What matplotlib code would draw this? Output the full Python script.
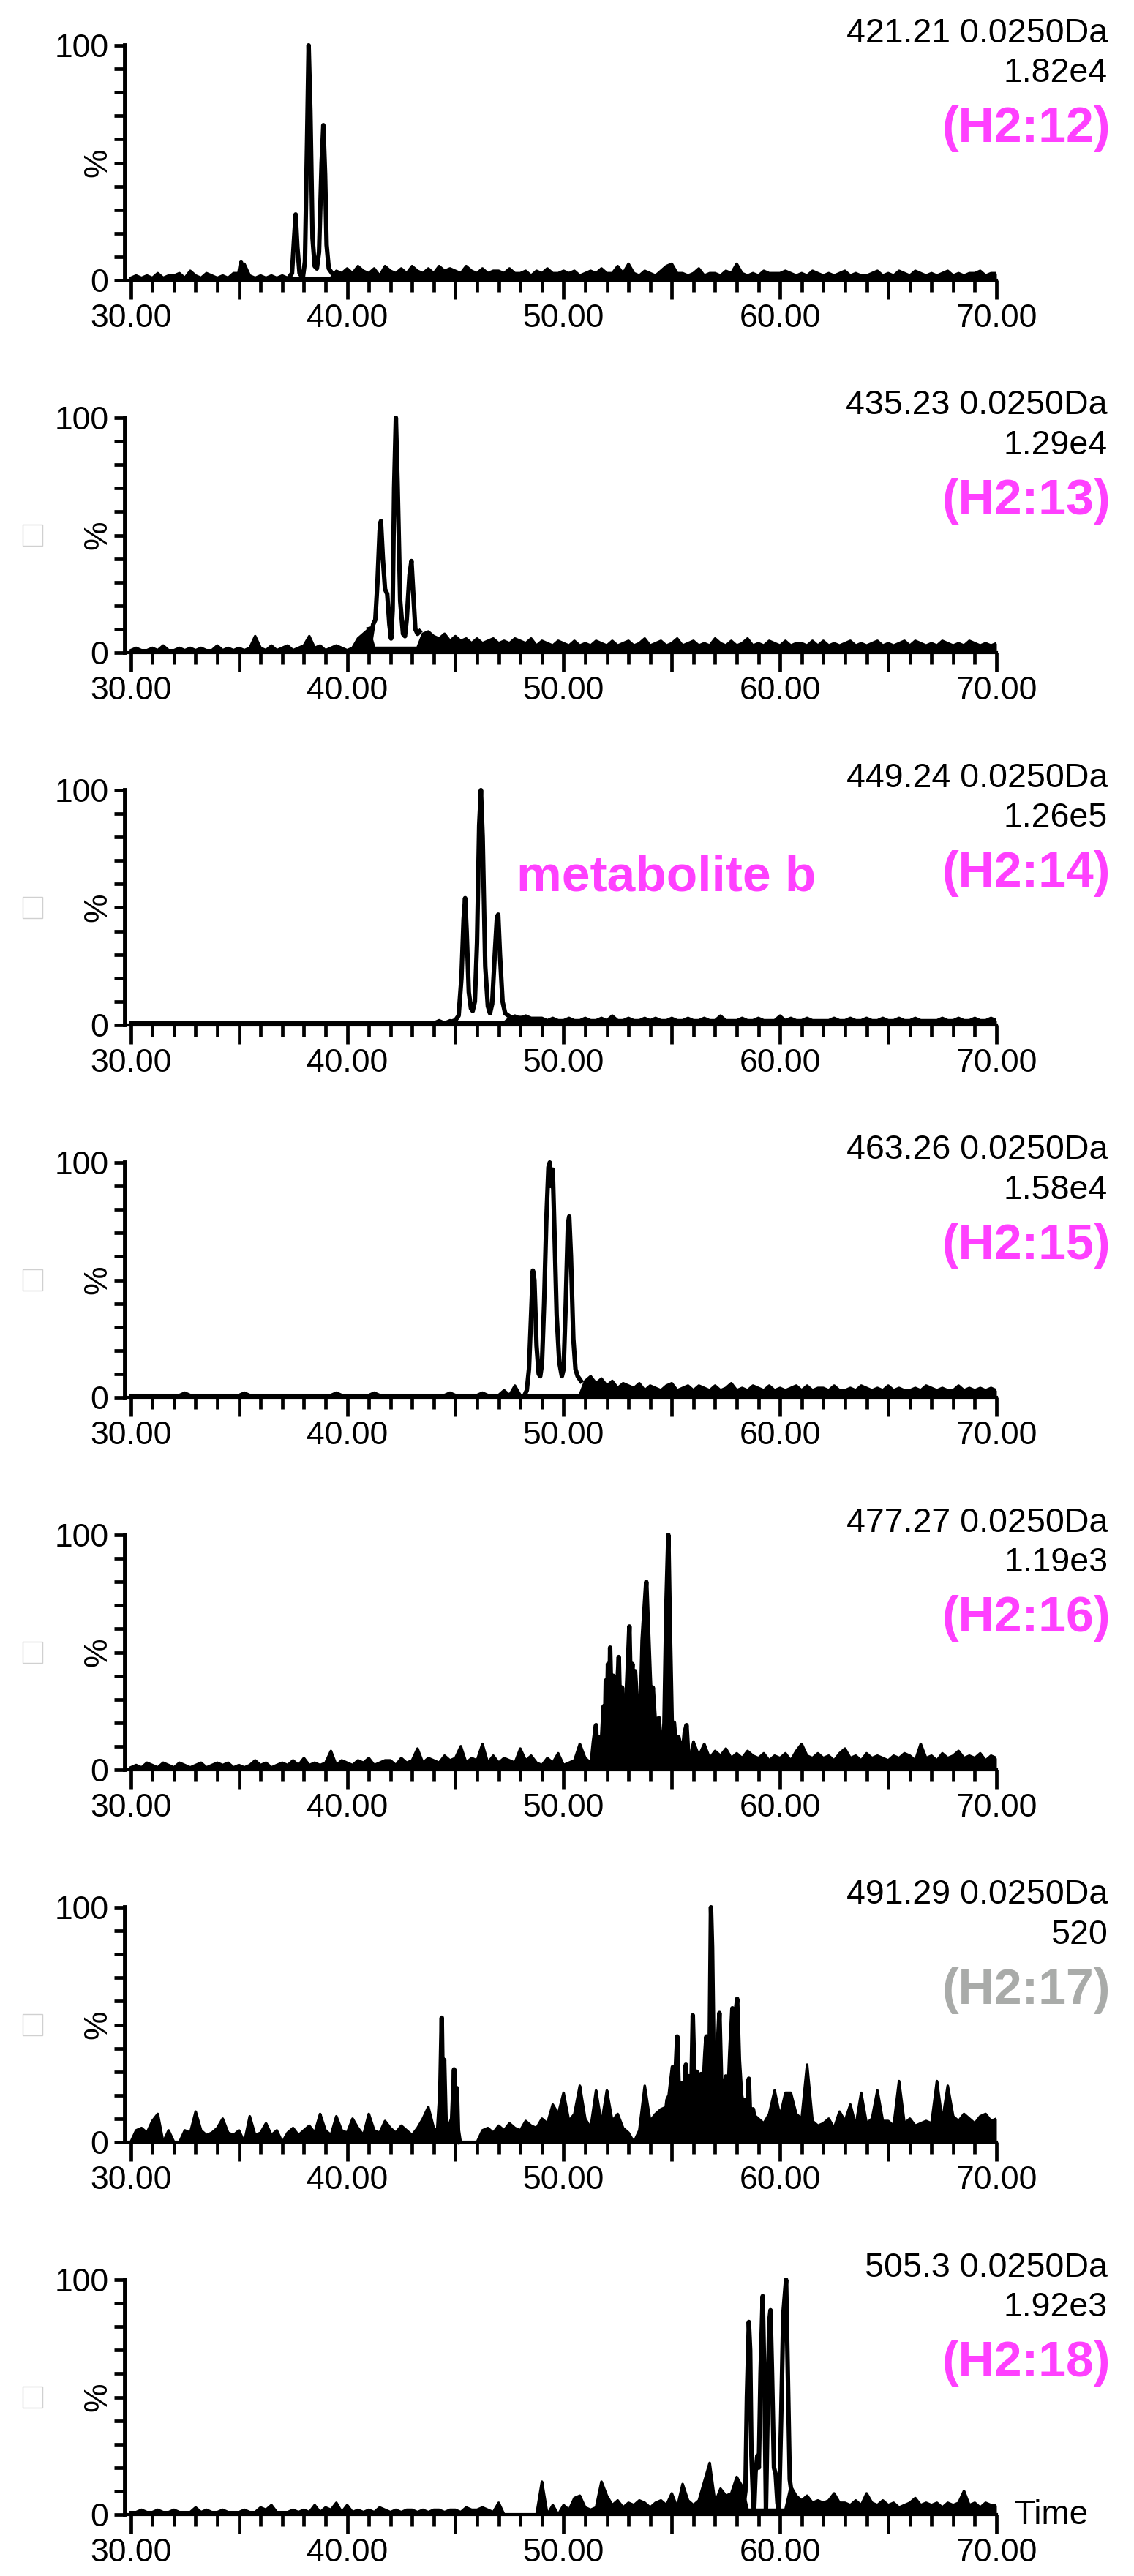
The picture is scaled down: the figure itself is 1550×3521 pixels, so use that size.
import numpy as np
import matplotlib
matplotlib.use("Agg")
import matplotlib.pyplot as plt
from matplotlib.patches import Rectangle
from matplotlib.ticker import MultipleLocator

plt.rcParams['font.family'] = ['Liberation Sans', 'DejaVu Sans']

# ------------------------------------------------------------
# Data (7 extracted ion chromatograms)
# ------------------------------------------------------------
masses = ["421.21 0.0250Da", "435.23 0.0250Da", "449.24 0.0250Da", "463.26 0.0250Da",
          "477.27 0.0250Da", "491.29 0.0250Da", "505.3 0.0250Da"]
intensities = ["1.82e4", "1.29e4", "1.26e5", "1.58e4", "1.19e3", "520", "1.92e3"]
tags = ["(H2:12)", "(H2:13)", "(H2:14)", "(H2:15)", "(H2:16)", "(H2:17)", "(H2:18)"]
tag_is_grey = [False, False, False, False, False, True, False]
# clusters that look like a solid black mass in the reference
dense_cluster = [False, False, False, False, True, True, False]

# baseline noise, one value (%) every 0.25 min starting at 30.00
noise1 = [1, 2, 1, 2, 1, 3, 1, 2, 2, 3, 1, 4, 2, 1, 3, 2,
          1, 2, 1, 3, 3, 7, 2, 1, 2, 1, 2, 1, 2, 1, 1, 1,
          1, 1, 1, 1, 1, 1, 4, 3, 5, 3, 6, 4, 3, 5, 2, 6,
          4, 3, 5, 3, 6, 4, 3, 5, 3, 6, 4, 5, 4, 3, 6, 4,
          3, 5, 3, 4, 4, 3, 5, 3, 3, 4, 2, 4, 3, 5, 3, 3,
          4, 3, 4, 2, 3, 4, 3, 5, 3, 3, 6, 3, 7, 3, 2, 4,
          3, 2, 4, 6, 7, 3, 3, 2, 3, 5, 2, 3, 3, 2, 4, 3,
          7, 3, 2, 3, 2, 4, 3, 3, 3, 4, 3, 2, 3, 2, 4, 3,
          2, 3, 2, 3, 4, 2, 3, 2, 2, 3, 4, 2, 3, 2, 4, 3,
          2, 4, 3, 2, 3, 2, 3, 4, 2, 3, 2, 3, 3, 4, 2, 3,
          3]
noise2 = [1, 2, 1, 1, 2, 1, 3, 1, 1, 2, 1, 2, 1, 2, 1, 1,
          3, 1, 2, 1, 2, 1, 2, 7, 2, 1, 3, 1, 2, 3, 1, 2,
          3, 7, 2, 3, 1, 2, 3, 2, 1, 2, 6, 8, 10, 2, 2, 2,
          2, 2, 2, 2, 2, 2, 8, 9, 7, 6, 8, 5, 7, 5, 6, 4,
          6, 4, 5, 6, 4, 5, 4, 6, 5, 4, 6, 3, 5, 4, 3, 5,
          4, 3, 5, 3, 4, 3, 5, 4, 3, 5, 3, 4, 5, 3, 4, 6,
          3, 4, 5, 3, 4, 6, 3, 4, 5, 3, 4, 3, 6, 4, 3, 5,
          3, 4, 6, 3, 4, 3, 5, 4, 3, 5, 3, 4, 4, 3, 5, 3,
          5, 3, 4, 3, 4, 5, 3, 4, 3, 4, 5, 3, 4, 3, 4, 5,
          3, 5, 4, 3, 4, 3, 5, 4, 3, 4, 3, 5, 4, 3, 4, 3,
          4]
noise3 = [1, 1, 1, 1, 1, 1, 1, 1, 1, 1, 1, 1, 1, 1, 1, 1,
          1, 1, 1, 1, 1, 1, 1, 1, 1, 1, 1, 1, 1, 1, 1, 1,
          1, 1, 1, 1, 1, 1, 1, 1, 1, 1, 1, 1, 1, 1, 1, 1,
          1, 1, 1, 1, 1, 1, 1, 1, 1, 2, 1, 2, 1, 1, 1, 1,
          1, 1, 1, 1, 1, 1, 3, 4, 3, 4, 3, 3, 3, 2, 3, 2,
          2, 3, 2, 2, 3, 2, 2, 3, 2, 4, 2, 2, 3, 2, 2, 3,
          2, 3, 2, 2, 3, 2, 2, 3, 2, 2, 3, 2, 2, 4, 2, 2,
          2, 3, 2, 2, 3, 2, 2, 2, 4, 2, 3, 2, 2, 3, 2, 2,
          2, 2, 3, 2, 2, 3, 2, 2, 3, 2, 2, 3, 2, 2, 3, 2,
          2, 3, 2, 2, 2, 2, 3, 2, 2, 3, 2, 2, 3, 2, 2, 3,
          2]
noise4 = [1, 1, 1, 1, 1, 1, 1, 1, 1, 1, 2, 1, 1, 1, 1, 1,
          1, 1, 1, 1, 1, 2, 1, 1, 1, 1, 1, 1, 1, 1, 1, 1,
          1, 1, 1, 1, 1, 1, 2, 1, 1, 1, 1, 1, 1, 2, 1, 1,
          1, 1, 1, 1, 1, 1, 1, 1, 1, 1, 1, 2, 1, 1, 1, 1,
          1, 2, 1, 1, 1, 3, 1, 5, 1, 1, 1, 1, 1, 1, 1, 1,
          1, 1, 1, 1, 7, 9, 6, 8, 5, 7, 4, 6, 5, 4, 6, 3,
          5, 4, 3, 5, 6, 3, 4, 5, 3, 5, 4, 3, 5, 3, 4, 6,
          3, 4, 3, 5, 4, 3, 5, 3, 4, 3, 4, 5, 3, 5, 3, 4,
          4, 3, 5, 3, 3, 4, 3, 5, 4, 3, 4, 3, 5, 3, 4, 3,
          3, 4, 3, 5, 4, 3, 4, 3, 3, 5, 3, 4, 3, 4, 3, 4,
          3]
noise5 = [1, 2, 1, 3, 2, 1, 3, 2, 1, 3, 2, 1, 2, 3, 1, 2,
          3, 2, 3, 1, 2, 1, 2, 4, 2, 3, 1, 2, 3, 2, 4, 2,
          5, 2, 3, 2, 3, 8, 2, 4, 3, 2, 4, 3, 5, 2, 3, 4,
          4, 2, 5, 3, 4, 9, 3, 5, 4, 3, 6, 4, 5, 10, 3, 5,
          4, 11, 3, 6, 3, 5, 4, 3, 9, 4, 6, 3, 2, 5, 3, 7,
          2, 3, 4, 11, 5, 3, 2, 2, 2, 2, 2, 2, 2, 2, 2, 2,
          2, 2, 2, 2, 2, 2, 2, 2, 12, 6, 11, 5, 8, 6, 9, 5,
          7, 5, 8, 6, 5, 7, 4, 6, 5, 7, 4, 8, 11, 6, 5, 7,
          5, 6, 4, 7, 9, 5, 6, 4, 7, 5, 6, 5, 4, 6, 5, 7,
          6, 4, 11, 5, 6, 4, 7, 5, 6, 8, 5, 6, 5, 7, 4, 6,
          5]
noise6 = [0, 5, 6, 4, 9, 12, 0, 5, 0, 0, 5, 4, 13, 5, 3, 4,
          6, 10, 4, 3, 5, 0, 11, 3, 4, 8, 3, 5, 0, 4, 6, 3,
          5, 7, 4, 12, 5, 3, 11, 5, 4, 10, 6, 3, 12, 5, 4, 9,
          6, 4, 7, 5, 3, 6, 10, 15, 6, 4, 5, 8, 6, 0, 0, 0,
          0, 5, 6, 4, 7, 5, 8, 6, 5, 9, 7, 6, 10, 8, 16, 12,
          21, 9, 12, 24, 10, 6, 22, 8, 22, 9, 12, 6, 4, 0, 5, 24,
          9, 12, 14, 15, 10, 12, 9, 11, 9, 12, 10, 11, 10, 9, 12, 10,
          9, 11, 10, 12, 10, 8, 12, 22, 11, 21, 21, 12, 10, 33, 9, 7,
          8, 10, 6, 13, 9, 16, 7, 21, 8, 10, 22, 9, 9, 7, 26, 8,
          10, 7, 8, 9, 8, 26, 9, 24, 11, 9, 12, 10, 8, 11, 12, 9,
          10]
noise7 = [1, 1, 2, 1, 1, 2, 1, 1, 2, 1, 1, 1, 3, 1, 2, 1,
          1, 2, 1, 1, 1, 2, 1, 1, 3, 2, 4, 1, 1, 1, 2, 1,
          2, 1, 4, 1, 3, 2, 5, 1, 4, 1, 2, 1, 2, 1, 3, 2,
          1, 2, 1, 2, 2, 1, 2, 1, 2, 2, 1, 2, 2, 1, 3, 2,
          2, 3, 2, 1, 5, 0, 0, 0, 0, 0, 0, 0, 14, 0, 4, 0,
          4, 2, 7, 8, 3, 2, 3, 14, 8, 4, 6, 3, 5, 4, 6, 5,
          3, 5, 6, 4, 9, 3, 13, 6, 4, 6, 14, 22, 5, 11, 8, 9,
          16, 12, 2, 2, 2, 2, 2, 2, 2, 2, 12, 8, 6, 8, 5, 6,
          5, 6, 9, 5, 5, 4, 6, 4, 9, 5, 4, 6, 4, 5, 3, 4,
          5, 7, 4, 5, 4, 5, 3, 5, 4, 5, 10, 4, 5, 3, 5, 4,
          4]

# main peak clusters (time in min, relative intensity in %); nan breaks the line
peak1_t = [35.0, 35.1, 35.2, np.nan,
           37.3, 37.45, 37.55, 37.62, 37.7, 37.8, 37.95, 38.05, 38.15, 38.22, 38.3, 38.4,
           38.5, 38.6, 38.7, 38.82, 38.9, 38.98, 39.05, 39.15, 39.3]
peak1_y = [2, 7.5, 2, np.nan,
           1, 3, 18, 28, 14, 3, 1, 8, 60, 100, 72, 18,
           6, 5, 12, 50, 66, 45, 15, 5, 3]
peak2_t = [41.0, 41.1, 41.2, 41.3, 41.4, 41.5, 41.56, 41.65, 41.75, 41.85, 41.95, 42.03,
           42.1, 42.17, 42.25, 42.33, 42.45, 42.58, 42.67, 42.75, 42.88, 42.97, 43.05,
           43.15, 43.25, 43.35]
peak2_y = [10, 6, 12, 14, 30, 52, 56, 40, 27, 25, 12, 6,
           18, 70, 100, 72, 22, 8, 7, 14, 33, 39, 26,
           10, 8, 9]
peak3_t = [44.85, 45.0, 45.15, 45.28, 45.38, 45.45, 45.52, 45.62, 45.72, 45.8, 45.9, 46.0,
           46.1, 46.18, 46.26, 46.38, 46.5, 46.6, 46.7, 46.82, 46.92, 46.98, 47.06, 47.18,
           47.3, 47.45, 47.6, 47.8, 48.0]
peak3_y = [1.5, 2, 4, 20, 45, 54, 40, 14, 7, 6, 10, 35,
           85, 100, 80, 25, 8, 5, 9, 30, 46, 47, 30, 10,
           5, 4, 3, 3, 3]
peak4_t = [48.2, 48.3, 48.4, 48.5, 48.58, 48.65, 48.75, 48.85, 48.92, 49.0, 49.1, 49.2,
           49.3, 49.36, 49.42, 49.5, 49.58, 49.68, 49.8, 49.92, 50.0, 50.1, 50.2, 50.26,
           50.34, 50.45, 50.55, 50.65, 50.8]
peak4_y = [1, 3, 12, 35, 54, 50, 22, 10, 9, 14, 40, 75,
           98, 100, 90, 97, 70, 35, 15, 9, 12, 40, 74, 77,
           60, 25, 12, 9, 7]
peak5_t = [51.3, 51.4, 51.5, 51.55, 51.65, 51.75, 51.85, 51.9, 51.95, 52.0, 52.05, 52.1,
           52.15, 52.22, 52.3, 52.35, 52.45, 52.55, 52.62, 52.7, 52.8, 52.88, 52.95, 53.04,
           53.1, 53.18, 53.25, 53.3, 53.38, 53.45, 53.5, 53.58, 53.65, 53.75, 53.82, 53.9,
           53.98, 54.05, 54.12, 54.2, 54.3, 54.4, 54.5, 54.58, 54.66, 54.75, 54.84, 54.92,
           55.0, 55.1, 55.2, 55.3, 55.4, 55.5, 55.6, 55.68, 55.76]
peak5_y = [3, 12, 19, 5, 14, 8, 27, 10, 38, 20, 45, 15,
           52, 25, 40, 10, 30, 48, 20, 35, 2, 25, 40, 61,
           35, 45, 20, 42, 30, 8, 1, 30, 55, 70, 80, 60,
           40, 25, 35, 23, 15, 22, 8, 1, 20, 70, 100, 55,
           18, 20, 8, 14, 10, 6, 16, 19, 6]
peak6_t = [44.2, 44.3, 44.37, 44.42, 44.48, 44.55, 44.7, 44.85, 44.94, 45.0, 45.07, 45.12,
           45.2, np.nan,
           54.7, 54.8, 54.9, 55.05, 55.12, 55.25, 55.32, 55.45, 55.55, 55.65, 55.72, 55.8,
           55.9, 55.97, 56.05, 56.15, 56.25, 56.35, 56.45, 56.55, 56.6, 56.7, 56.75, 56.81,
           56.86, 56.92, 57.0, 57.1, 57.2, 57.28, 57.4, 57.5, 57.6, 57.7, 57.8, 57.88,
           57.95, 58.02, 58.1, 58.2, 58.3, 58.4, 58.5, 58.56, 58.62, 58.75, 58.85]
peak6_y = [5, 20, 53, 20, 35, 8, 6, 10, 31, 12, 23, 5,
           0, np.nan,
           10, 18, 20, 32, 18, 45, 22, 25, 15, 33, 20, 28,
           20, 54, 25, 30, 18, 29, 20, 38, 45, 25, 40, 100,
           83, 40, 25, 35, 55, 25, 20, 28, 15, 38, 57, 30,
           55, 61, 35, 20, 15, 18, 12, 27, 10, 14, 8]
peak7_t = [58.3, 58.4, 58.47, 58.56, 58.62, 58.68, 58.75, 58.8, 58.87, 58.95, 59.02, 59.1,
           59.2, 59.28, 59.35, 59.42, 59.5, 59.56, 59.63, 59.72, 59.8, 59.88, 59.95, 60.05,
           60.15, 60.28, 60.35, 60.45, 60.55]
peak7_y = [3, 10, 50, 82, 70, 25, 8, 1, 18, 25, 20, 60,
           93, 55, 2, 40, 82, 87, 60, 20, 17, 5, 1, 40,
           85, 100, 65, 15, 8]

noises = [noise1, noise2, noise3, noise4, noise5, noise6, noise7]
peaks = [(peak1_t, peak1_y), (peak2_t, peak2_y), (peak3_t, peak3_y), (peak4_t, peak4_y),
         (peak5_t, peak5_y), (peak6_t, peak6_y), (peak7_t, peak7_y)]

# ------------------------------------------------------------
# Layout (pixels of the 1550 x 3521 output)
# ------------------------------------------------------------
W, H = 1550, 3521
fig = plt.figure(figsize=(W / 100, H / 100), dpi=100)

X_LEFT, X_RIGHT = 171, 1362      # y axis column and the 70.00 tick column
T_MIN, T_MAX = 29.74, 70.0
PX = 3.21                         # pixels per percent
ZERO0, STEP = 383, 509            # y pixel of 0 % in the first panel, panel spacing
LO, HI = -4, 104
PINK, GREY = '#FF40FF', '#A9ABA9'

for k in range(7):
    y0 = ZERO0 + STEP * k
    y100 = y0 - 100 * PX
    ax = fig.add_axes([X_LEFT / W, (H - (y0 - LO * PX)) / H,
                       (X_RIGHT - X_LEFT) / W, (HI - LO) * PX / H])
    ax.set_xlim(T_MIN, T_MAX)
    ax.set_ylim(LO, HI)
    ax.patch.set_visible(False)

    # trace: noisy baseline filled black, peak clusters on top
    noise = noises[k]
    t = 30 + 0.25 * np.arange(len(noise))
    ax.fill_between(t, 0, noise, color='k', lw=0)
    ax.vlines(t, 0, noise, color='k', lw=2.2)
    ax.plot(t, noise, color='k', lw=2.6)
    pt, py = peaks[k]
    if dense_cluster[k]:
        ax.fill_between(np.ma.masked_invalid(pt), 0, np.ma.masked_invalid(py),
                        color='k', lw=0)
    ax.plot(pt, py, color='k', lw=4.4)

    # axes styling
    for s in ['top', 'right']:
        ax.spines[s].set_visible(False)
    ax.spines['left'].set_bounds(0, 100)
    ax.spines['left'].set_linewidth(4.2)
    ax.spines['bottom'].set_position(('data', 0))
    ax.spines['bottom'].set_bounds(T_MIN, T_MAX)
    ax.spines['bottom'].set_linewidth(3)

    ax.set_yticks(np.arange(0, 101, 10))
    ax.set_yticklabels(['0'] + [''] * 9 + ['100'])
    ax.tick_params(axis='y', length=10.8, width=3.4, pad=5.5, labelsize=32)

    xt = np.arange(30, 71, 5)
    ax.set_xticks(xt)
    ax.set_xticklabels(['%.2f' % v if v % 10 == 0 else '' for v in xt])
    ax.xaxis.set_minor_locator(MultipleLocator(1))
    ax.tick_params(axis='x', which='major', length=18.7, width=3.4, pad=4, labelsize=32)
    ax.tick_params(axis='x', which='minor', length=11.5, width=3.4)

    # texts on the right
    fig.text(1514 / W, 1 - (y100 - 4.5) / H, masses[k], ha='right', va='baseline',
             fontsize=33.5)
    fig.text(1514 / W, 1 - (y100 + 50) / H, intensities[k], ha='right', va='baseline',
             fontsize=33.5)
    fig.text(1518 / W, 1 - (y100 + 132) / H, tags[k], ha='right', va='baseline',
             fontsize=49, fontweight='bold', color=GREY if tag_is_grey[k] else PINK)

    # "%" label and the faint box beside it
    fig.text(134 / W, 1 - (y0 - 160.5) / H, '%', rotation=90, ha='center', va='center',
             fontsize=32)
    if k > 0:
        fig.patches.append(Rectangle((31 / W, 1 - (y0 - 160.5 + 14.5) / H), 27 / W, 29 / H,
                                     transform=fig.transFigure, fill=False,
                                     ec='#D0D0D0', lw=1))

    if k == 2:
        fig.text(706 / W, 1 - (y100 + 138) / H, 'metabolite b', ha='left', va='baseline',
                 fontsize=50, fontweight='bold', color=PINK)
    if k == 6:
        fig.text(1387 / W, 1 - (y0 + 1) / H, 'Time', ha='left', va='center', fontsize=33)

fig.savefig('out.png', dpi=100)
